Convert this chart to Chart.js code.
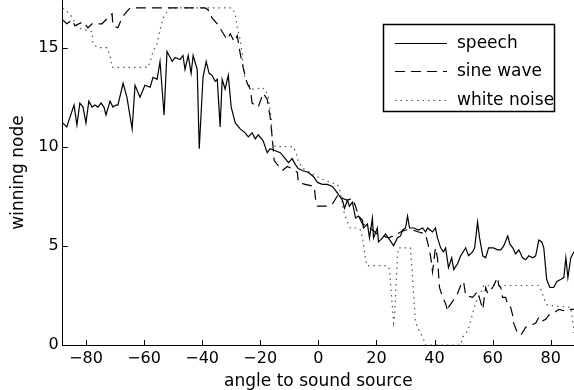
<!DOCTYPE html>
<html><head><meta charset="utf-8">
<script src="https://cdn.jsdelivr.net/npm/chart.js@4.4.1/dist/chart.umd.min.js"></script>
<style>html,body{margin:0;padding:0;background:#fff;overflow:hidden}canvas{display:block}</style>
</head><body>
<canvas id="c" width="574" height="390"></canvas>
<script>
const xTicks = [-80,-60,-40,-20,0,20,40,60,80];
const yTicks = [0,5,10,15];
const seriesNames = ['speech','sine wave','white noise'];
const xTitle = 'angle to sound source';
const yTitle = 'winning node';

const speechAngles = [-88,-86.6,-84.1,-83.1,-82.1,-81.0,-80.0,-79.0,-77.9,-76.9,-75.9,-74.8,-73.8,-73.1,-71.7,-70.7,-69.7,-69.0,-67.2,-65.9,-64.1,-63.1,-61.4,-59.7,-57.9,-56.9,-55.5,-54.5,-53.1,-52.1,-50.3,-49.3,-47.6,-46.6,-45.9,-44.8,-43.8,-43.1,-41.7,-41.0,-39.7,-38.6,-37.6,-36.6,-35.5,-34.8,-33.8,-33.1,-32.1,-31.0,-30.0,-28.6,-26.9,-25.2,-24.1,-22.8,-21.7,-20.7,-19.0,-17.6,-16.6,-14.8,-13.1,-11.4,-10.3,-9.0,-7.9,-6.9,-5.5,-3.4,-1.7,-0.3,1.4,3.1,4.8,5.9,6.9,8.3,9.0,10.0,10.7,11.7,12.8,13.8,15.2,15.5,16.9,17.6,18.6,19.0,20.3,20.7,22.1,23.1,24.1,25.9,27.2,28.3,29.0,30.0,30.7,31.4,32.8,34.5,35.9,36.9,37.6,39.3,40.3,41.0,42.1,43.1,43.8,44.8,45.9,46.6,47.9,49.0,50.7,51.7,53.1,53.8,54.8,55.5,56.6,57.6,58.6,60.3,61.7,62.8,63.8,65.2,65.9,66.9,67.9,69.0,70.3,71.4,72.4,73.8,74.8,75.9,76.9,77.6,78.6,79.7,81.0,82.1,83.4,84.5,85.2,85.9,86.9,88];
const speechValues = [11.2,11.0,12.1,11.1,12.2,12.0,11.2,12.3,12.0,12.1,12.0,12.2,12.0,11.6,12.3,12.0,12.1,12.1,13.2,12.5,10.9,13.1,12.5,13.1,13.0,13.5,13.4,14.3,11.6,14.8,14.3,14.5,14.4,14.6,13.9,14.6,13.7,14.6,13.9,9.9,13.5,14.3,13.7,13.6,13.3,13.4,11.0,13.4,12.9,13.6,12.0,11.2,10.9,10.7,10.5,10.7,10.4,10.6,10.3,9.7,9.9,9.8,9.7,9.4,9.2,9.4,9.1,8.9,8.8,8.7,8.5,8.2,8.1,8.1,8.0,7.8,7.6,7.3,6.9,7.3,7.0,7.2,6.4,6.5,6.3,5.9,6.1,5.4,6.4,5.4,5.9,5.2,5.4,5.6,5.4,5.0,5.4,5.5,5.8,5.9,6.5,5.9,5.9,5.8,5.9,5.7,5.9,5.7,5.9,5.4,4.9,4.7,4.9,3.9,4.4,3.8,4.1,4.5,4.9,4.5,4.7,4.9,6.2,5.4,4.5,4.4,4.9,4.9,4.8,4.8,5.0,5.5,5.1,4.9,4.6,4.8,4.4,4.3,4.5,4.4,4.5,5.3,5.2,4.9,3.3,2.9,2.9,3.2,3.3,3.4,4.4,3.4,4.4,4.7];

const sineAngles = [-88,-86.6,-84.8,-83.8,-81.0,-79.3,-77.9,-74.5,-72.4,-71.0,-70.7,-69.0,-67.6,-66.6,-64.8,-39.0,-37.9,-36.6,-34.8,-33.1,-31.4,-30.3,-29.0,-27.9,-26.9,-25.9,-24.5,-23.4,-22.8,-20.7,-19.0,-17.6,-16.6,-15.9,-15.2,-14.1,-12.4,-10.7,-9.0,-7.2,-6.9,-4.5,-1.4,-1.0,-0.3,2.4,4.8,6.9,8.3,10.0,11.7,12.8,13.8,15.2,16.9,18.6,20.3,22.4,24.1,25.9,28.3,30.0,32.4,34.5,36.9,37.9,38.6,39.0,39.3,40.3,41.0,41.7,42.8,43.8,44.5,44.8,46.2,47.2,47.9,49.0,50.0,50.7,53.1,54.8,55.2,56.6,57.6,58.3,60.0,61.7,62.1,62.8,63.4,64.5,65.2,66.2,66.9,67.2,68.6,69.7,71.4,73.1,74.8,75.9,76.9,78.3,79.3,81.0,82.8,85.2,86.9,88];
const sineValues = [16.4,16.2,16.4,16.1,16.3,16.0,16.2,16.2,16.5,16.7,16.1,16.0,16.5,16.7,17.0,17.0,16.9,16.5,16.2,15.8,15.4,15.7,15.3,15.6,14.7,14.0,13.2,12.9,12.2,12.0,12.7,12.4,11.5,10.5,9.3,9.1,8.8,9.0,8.9,8.7,8.2,8.1,8.0,7.4,7.0,7.0,7.1,7.6,7.4,7.3,7.4,7.0,6.5,6.1,6.0,5.8,5.6,5.5,5.4,5.5,5.7,5.8,5.8,5.7,5.6,5.0,4.5,4.1,3.7,4.9,4.4,2.9,2.4,2.1,1.7,1.9,2.2,2.4,2.6,3.0,3.2,2.5,2.4,2.7,2.5,1.8,2.9,2.6,2.9,3.4,3.0,2.9,2.4,2.4,2.0,1.9,1.5,1.1,0.6,0.5,0.9,1.0,1.1,1.4,1.2,1.3,1.5,1.6,1.8,1.7,1.8,1.8];

const noiseAngles = [-88,-85.5,-82.8,-77.9,-77.6,-75.9,-72.8,-71.7,-71.0,-58.6,-57.9,-56.9,-55.5,-54.5,-53.4,-52.1,-51.0,-29.7,-28.6,-27.9,-26.9,-26.2,-25.9,-25.2,-22.8,-21.0,-20.0,-18.3,-17.2,-16.6,-16.2,-15.9,-14.8,-8.6,-7.2,-6.9,-5.5,-5.2,-2.8,0.7,4.1,6.6,6.9,7.6,8.6,10.0,11.0,13.4,14.5,15.2,16.2,16.6,23.8,24.5,25.9,26.2,27.2,27.6,31.7,32.1,32.8,33.4,34.1,36.2,36.9,49.0,49.7,51.4,52.4,54.1,54.8,55.9,56.9,75.9,76.6,78.3,79.0,86.9,87.9,88];
const noiseValues = [17.0,16.7,16.0,15.8,15.2,15.0,15.0,14.6,14.0,14.0,14.3,14.8,15.2,15.9,16.5,16.8,17.0,17.0,16.7,16.0,15.4,14.7,14.0,13.4,12.9,12.9,13.0,12.9,12.5,11.8,11.5,10.3,10.0,10.0,9.5,9.2,9.0,8.9,8.7,8.4,8.2,8.1,8.0,7.7,6.8,6.2,5.9,5.9,5.8,5.4,4.4,4.0,4.0,3.8,1.1,1.4,4.4,4.9,4.9,4.1,2.5,1.2,0.9,0.3,0,0,0.4,0.7,1.2,2.1,2.4,2.6,3.0,3.0,2.8,2.1,2.0,1.9,0.8,0.6];

const pts = (xs, ys) => xs.map((v, i) => ({x: v, y: ys[i]}));
const fmt = v => String(v).replace('-', '\u2212');

const overlay = {
  id: 'overlay',
  afterDraw(chart) {
    const {ctx, chartArea: a, scales: {x, y}} = chart;
    ctx.save();
    ctx.strokeStyle = '#000';
    ctx.lineWidth = 1;
    ctx.beginPath();
    xTicks.forEach(v => { const px = Math.round(x.getPixelForValue(v)) + 0.5; ctx.moveTo(px, a.bottom); ctx.lineTo(px, a.bottom - 5); });
    yTicks.forEach(v => { const py = Math.round(y.getPixelForValue(v)) + 0.5; ctx.moveTo(a.left, py); ctx.lineTo(a.left + 5, py); });
    ctx.stroke();
    // legend box
    const bx = 383.5, by = 24.5, bw = 171, bh = 87;
    ctx.fillStyle = '#fff';
    ctx.fillRect(bx, by, bw, bh);
    ctx.lineWidth = 1.5;
    ctx.strokeStyle = '#000';
    ctx.strokeRect(bx, by, bw, bh);
    ctx.font = '17px "DejaVu Sans"';
    ctx.textBaseline = 'middle';
    ctx.textAlign = 'left';
    chart.data.datasets.forEach((ds, i) => {
      const ly = Math.round(by + 18 + i * 28.5) + 0.5;
      ctx.save();
      ctx.strokeStyle = ds.borderColor;
      ctx.lineWidth = ds.borderWidth;
      ctx.setLineDash(ds.borderDash || []);
      ctx.beginPath();
      ctx.moveTo(395, ly);
      ctx.lineTo(447, ly);
      ctx.stroke();
      ctx.restore();
      ctx.fillStyle = '#000';
      ctx.fillText(ds.label, 457, ly);
    });
    ctx.restore();
  }
};

Chart.defaults.font.family = '"DejaVu Sans"';
Chart.defaults.color = '#000';

new Chart(document.getElementById('c'), {
  type: 'line',
  data: {
    datasets: [
      {label: seriesNames[0], data: pts(speechAngles, speechValues), borderColor: '#000', borderWidth: 1.2, pointRadius: 0, tension: 0, fill: false},
      {label: seriesNames[1], data: pts(sineAngles, sineValues), borderColor: '#000', borderWidth: 1.2, borderDash: [10, 6], pointRadius: 0, tension: 0, fill: false},
      {label: seriesNames[2], data: pts(noiseAngles, noiseValues), borderColor: '#555', borderWidth: 1.2, borderDash: [1.5, 4], pointRadius: 0, tension: 0, fill: false}
    ]
  },
  options: {
    responsive: false,
    animation: false,
    devicePixelRatio: 1,
    layout: {padding: 0},
    plugins: {legend: {display: false}, tooltip: {enabled: false}},
    scales: {
      x: {
        type: 'linear', min: -88, max: 88,
        afterBuildTicks: s => { s.ticks = xTicks.map(v => ({value: v})); },
        afterFit: s => { s.height = 45; s.paddingLeft = 0; s.paddingRight = 0; },
        grid: {display: false, drawTicks: false},
        border: {display: true, color: '#000', width: 1},
        ticks: {font: {size: 16}, padding: 4, maxRotation: 0, autoSkip: false, callback: v => fmt(v)},
        title: {display: true, text: xTitle, font: {size: 17, lineHeight: 1}, padding: {top: 0, bottom: 0}}
      },
      y: {
        type: 'linear', min: 0, max: 17.4,
        afterBuildTicks: s => { s.ticks = yTicks.map(v => ({value: v})); },
        afterFit: s => { s.width = 62.7; s.paddingTop = 0; s.paddingBottom = 0; },
        grid: {display: false, drawTicks: false},
        border: {display: true, color: '#000', width: 1},
        ticks: {font: {size: 16}, padding: 4, callback: v => fmt(v)},
        title: {display: true, text: yTitle, font: {size: 17, lineHeight: 1}, padding: {top: 10, bottom: 0}}
      }
    }
  },
  plugins: [overlay]
});
</script>
</body></html>
